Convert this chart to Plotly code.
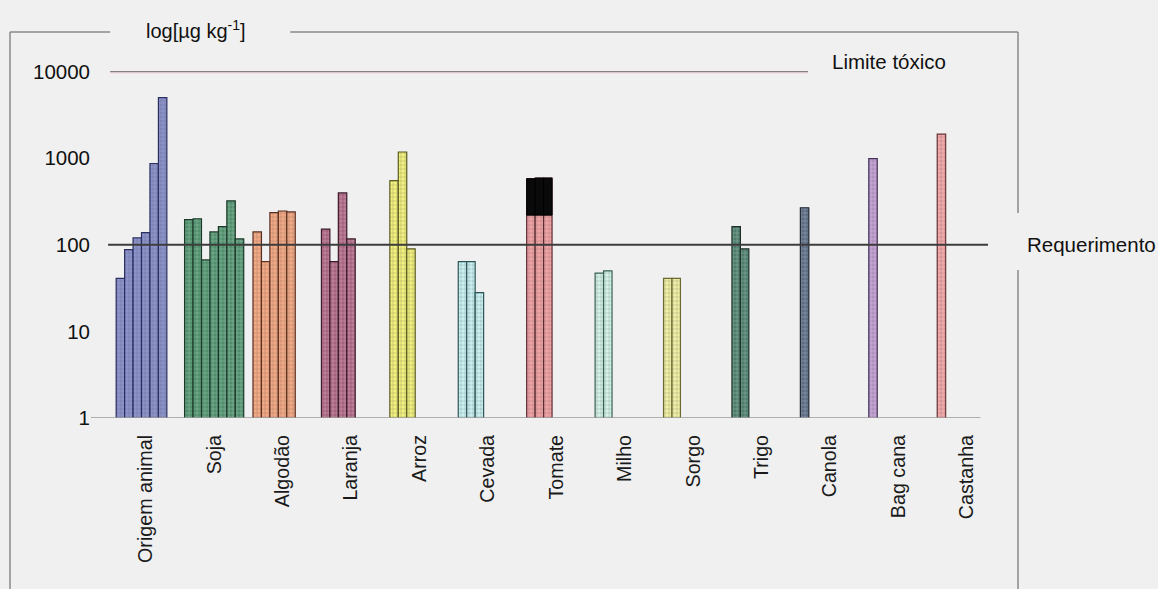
import plotly.graph_objects as go

# Selenium content by food source, log scale [µg kg-1]
categorias = ["Origem animal", "Soja", "Algodão", "Laranja", "Arroz", "Cevada", "Tomate",
              "Milho", "Sorgo", "Trigo", "Canola", "Bag cana", "Castanha"]

origem_animal = [41, 88, 120, 138, 870, 5000]
soja = [195, 200, 67, 141, 162, 322, 117]
algodao = [141, 64, 235, 246, 240]
laranja = [152, 64, 398, 117]
arroz = [550, 1180, 90]
cevada = [64, 64, 28]
tomate = [580, 590, 590]
tomate_base_escura = [220, 220, 220]
milho = [47, 50]
sorgo = [41, 41]
trigo = [162, 90]
canola = [268]
bag_cana = [990]
castanha = [1900]

series = [origem_animal, soja, algodao, laranja, arroz, cevada, tomate,
          milho, sorgo, trigo, canola, bag_cana, castanha]

cores = ["#8c93cb", "#4f8f6c", "#f3a985", "#a8637f", "#f2f07e", "#c9f0f0", "#f2a3a6",
         "#d3f2e8", "#f1efa6", "#4e7d6c", "#5c6b82", "#c3a3d3", "#f2a9aa"]
cores_trama = ["#3a3f78", "#1f4a33", "#8a4a2a", "#4a2035", "#8a8a30", "#3f6f70", "#8a3a40",
               "#4a7a6a", "#8a8a40", "#1f3a30", "#252f40", "#5a4070", "#8a4448"]
cores_borda = ["#2a2f60", "#1c3a2a", "#5a3020", "#3a1a2a", "#5a5a20", "#2d5558", "#5a2a30",
               "#3a6055", "#6a6a30", "#1a2e26", "#1e2633", "#45305a", "#6a3338"]

limite_toxico = 10000
requerimento = 100

rotulos_y = [1, 10, 100, 1000, 10000]

n_slots = max(len(s) for s in series)
slot_w = 0.1235

fig = go.Figure()

for k in range(n_slots):
    xs, ys, cs, fs, ls = [], [], [], [], []
    for i, s in enumerate(series):
        if k < len(s):
            xs.append(i)
            ys.append(s[k])
            cs.append(cores[i])
            fs.append(cores_trama[i])
            ls.append(cores_borda[i])
    fig.add_trace(go.Bar(
        x=xs, y=ys, width=slot_w, offset=(k - n_slots / 2) * slot_w,
        marker=dict(color=cs, line=dict(color=ls, width=1.2),
                    pattern=dict(shape="+", size=4, solidity=0.18, fgcolor=fs,
                                 fillmode="overlay")),
        showlegend=False, hoverinfo="skip",
    ))

# dark upper band on the Tomate bars
i_tom = categorias.index("Tomate")
for k, (topo, base) in enumerate(zip(tomate, tomate_base_escura)):
    fig.add_trace(go.Bar(
        x=[i_tom], y=[topo - base], base=[base], width=slot_w,
        offset=(k - n_slots / 2) * slot_w,
        marker=dict(color="#0a0a0a", line=dict(color="#000000", width=1)),
        showlegend=False, hoverinfo="skip",
    ))

# reference lines
fig.add_shape(type="line", xref="x", yref="y", x0=-0.52, x1=9.68,
              y0=limite_toxico * 0.985, y1=limite_toxico * 0.985,
              line=dict(color="#f4dfe4", width=3))
fig.add_shape(type="line", xref="x", yref="y", x0=-0.52, x1=9.68,
              y0=limite_toxico, y1=limite_toxico, line=dict(color="#858083", width=1.3))
fig.add_shape(type="line", xref="x", yref="y", x0=-0.55, x1=12.31,
              y0=requerimento, y1=requerimento, line=dict(color="#3c3c3c", width=2))
# baseline
fig.add_shape(type="line", xref="x", yref="y", x0=-0.8, x1=12.2,
              y0=1, y1=1, line=dict(color="#9a9a9a", width=1.5))

# surrounding frame
fc = dict(color="#8a8a8a", width=1.5)
fig.add_shape(type="line", xref="paper", yref="paper", x0=-0.089, x1=-0.089, y0=1.087, y1=-0.482, line=fc)
fig.add_shape(type="line", xref="paper", yref="paper", x0=-0.089, x1=0.021, y0=1.087, y1=1.087, line=fc)
fig.add_shape(type="line", xref="paper", yref="paper", x0=0.219, x1=1.0187, y0=1.087, y1=1.087, line=fc)
fig.add_shape(type="line", xref="paper", yref="paper", x0=1.0187, x1=1.0187, y0=1.087, y1=0.5775, line=fc)
fig.add_shape(type="line", xref="paper", yref="paper", x0=1.0187, x1=1.0187, y0=0.4169, y1=-0.482, line=fc)

fonte = "Liberation Sans, Arial, sans-serif"

fig.add_annotation(text="log[µg kg<sup>-1</sup>]", xref="paper", yref="paper", x=0.1154, y=1.093,
                   xanchor="center", yanchor="middle", showarrow=False,
                   font=dict(family=fonte, size=20, color="#111111"))
fig.add_annotation(text="Limite tóxico", xref="paper", yref="paper", x=0.812, y=1.003,
                   xanchor="left", yanchor="middle", showarrow=False,
                   font=dict(family=fonte, size=20.5, color="#111111"))
fig.add_annotation(text="Requerimento", xref="paper", yref="paper", x=1.0264, y=0.49,
                   xanchor="left", yanchor="middle", showarrow=False,
                   font=dict(family=fonte, size=20.5, color="#111111"))

fig.update_layout(
    width=1158, height=589,
    margin=dict(l=91, r=157, t=63, b=171),
    paper_bgcolor="#f0f0f0", plot_bgcolor="#f0f0f0",
    barmode="overlay",
    xaxis=dict(range=[-0.8, 12.5], tickmode="array", tickvals=list(range(len(categorias))),
               ticktext=categorias, tickangle=-90, showgrid=False, zeroline=False,
               showline=False, ticks="", ticklabelstandoff=12,
               tickfont=dict(family=fonte, size=19.7, color="#1a1a1a")),
    yaxis=dict(type="log", range=[0, 4.1], tickmode="array", tickvals=rotulos_y,
               ticktext=[str(v) for v in rotulos_y], showgrid=False, zeroline=False,
               showline=False, ticks="", ticklabelstandoff=0,
               tickfont=dict(family=fonte, size=20.5, color="#111111")),
)

fig.write_html("out.html")
